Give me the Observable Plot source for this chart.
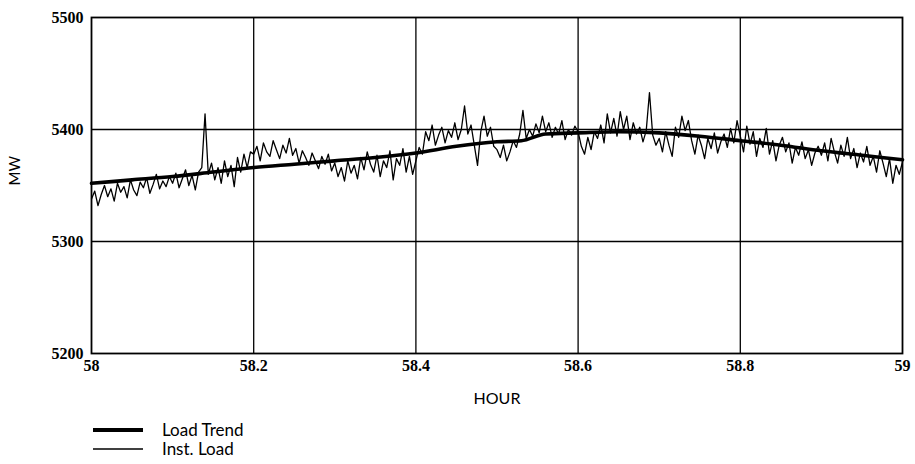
<!DOCTYPE html>
<html>
<head>
<meta charset="utf-8">
<script src="https://cdn.jsdelivr.net/npm/d3@7"></script>
<script src="https://cdn.jsdelivr.net/npm/@observablehq/plot@0.6"></script>
<style>
  body { margin: 0; background: #fff; }
  #legend { margin-left: 93px; margin-top: 5px; font-family: Lato, "Noto Sans", sans-serif; font-size: 17px; color: #000; }
  .row { display: flex; align-items: center; height: 19px; line-height: 19px; }
  .row svg { margin-right: 19px; }
</style>
</head>
<body>
<div id="chart"></div>
<div id="legend"></div>
<script>
const hourTicks = [58, 58.2, 58.4, 58.6, 58.8, 59];
const mwTicks = [5200, 5300, 5400, 5500];
const gridHours = [58.2, 58.4, 58.6, 58.8];
const gridMW = [5300, 5400];

const instStartHour = 58;
const instStepHour = 0.004;
const instLoad = [
  5338, 5345, 5332, 5342, 5350, 5340, 5347, 5336, 5352, 5344, 5349, 5339, 5355, 5346, 5341, 5353, 5348, 5357, 5343, 5351, 5360, 5347, 5354, 5349, 5358,
  5352, 5361, 5348, 5356, 5364, 5350, 5359, 5346, 5362, 5366, 5414, 5360, 5370, 5355, 5366, 5352, 5372, 5358, 5368, 5349, 5375, 5362, 5378, 5366, 5380,
  5378, 5385, 5372, 5388, 5380, 5376, 5390, 5382, 5374, 5386, 5379, 5392, 5377, 5383, 5370, 5381, 5375, 5368, 5379, 5372, 5365, 5376, 5369, 5378, 5363,
  5370, 5358, 5366, 5354, 5372, 5361, 5368, 5356, 5375, 5364, 5380, 5369, 5362, 5377, 5358, 5372, 5366, 5381, 5355, 5374, 5368, 5383, 5362, 5376, 5360,
  5372, 5384, 5378, 5398, 5390, 5404, 5386, 5395, 5402, 5388, 5399, 5393, 5406, 5391, 5400, 5421, 5396, 5404, 5386, 5368, 5398, 5412, 5394, 5402, 5385,
  5382, 5375, 5386, 5372, 5380, 5390, 5384, 5396, 5417, 5392, 5400, 5394, 5405, 5397, 5412, 5398, 5406, 5393, 5402, 5396, 5408, 5391, 5400, 5395, 5403,
  5398, 5385, 5378, 5393, 5382, 5398, 5392, 5404, 5388, 5414, 5397, 5410, 5394, 5416, 5400, 5412, 5391, 5406, 5396, 5402, 5389, 5399, 5433, 5395, 5386,
  5392, 5380, 5398, 5386, 5376, 5402, 5393, 5412, 5399, 5408, 5390, 5378, 5395, 5386, 5374, 5392, 5383, 5397, 5379, 5389, 5396, 5384, 5401, 5388, 5408,
  5394, 5380, 5403, 5387, 5398, 5376, 5392, 5384, 5401, 5378, 5390, 5372, 5386, 5393, 5380, 5388, 5370, 5384, 5377, 5389, 5374, 5382, 5368, 5379, 5385,
  5377, 5388, 5372, 5392, 5380, 5370, 5386, 5376, 5393, 5374, 5383, 5366, 5379, 5371, 5385, 5368, 5376, 5362, 5381, 5370, 5358, 5374, 5352, 5368, 5360,
  5371
];

const trendHour = [58.00, 58.05, 58.10, 58.15, 58.20, 58.25, 58.30, 58.35, 58.40, 58.45, 58.50, 58.53, 58.56, 58.60, 58.65, 58.70, 58.75, 58.80, 58.85, 58.90, 58.95, 59.00];
const trendMW   = [5352, 5355, 5358, 5362, 5366, 5369, 5372, 5375, 5379, 5385, 5389, 5390, 5396, 5397, 5398, 5397, 5394, 5390, 5386, 5381, 5377, 5373];

const instData = instLoad.map((mw, i) => ({hour: instStartHour + i * instStepHour, mw}));
const trendData = trendHour.map((hour, i) => ({hour, mw: trendMW[i]}));

const tickFont = "'Liberation Serif', serif";
const chart = Plot.plot({
  width: 915,
  height: 415,
  marginTop: 17,
  marginBottom: 62,
  marginLeft: 91,
  marginRight: 13,
  style: {fontFamily: tickFont, color: "#000", background: "#fff"},
  x: {domain: [58, 59]},
  y: {domain: [5200, 5500]},
  marks: [
    Plot.ruleX(gridHours, {stroke: "#000", strokeWidth: 1.3}),
    Plot.ruleY(gridMW, {stroke: "#000", strokeWidth: 1.3}),
    Plot.line(instData, {x: "hour", y: "mw", stroke: "#000", strokeWidth: 1.3}),
    Plot.line(trendData, {x: "hour", y: "mw", stroke: "#000", strokeWidth: 3.6, curve: "monotone-x"}),
    Plot.frame({stroke: "#000", strokeWidth: 1.8}),
    Plot.axisX(hourTicks, {tickFormat: d => String(d), tickSize: 0, tickPadding: 6, fontSize: 16, fontFamily: tickFont, fontWeight: "bold", label: null}),
    Plot.axisY(mwTicks, {tickFormat: d => String(d), tickSize: 0, tickPadding: 8, fontSize: 16, fontFamily: tickFont, fontWeight: "bold", label: null}),
    Plot.text(["HOUR"], {frameAnchor: "bottom", dy: 50, fontFamily: "Lato, 'Noto Sans', sans-serif", fontSize: 16}),
    Plot.text(["MW"], {frameAnchor: "left", dx: -76, rotate: -90, fontFamily: "Lato, 'Noto Sans', sans-serif", fontSize: 15})
  ]
});
document.getElementById("chart").appendChild(chart);

const legendItems = [
  {label: "Load Trend", width: 4},
  {label: "Inst. Load", width: 1.5}
];
const legend = document.getElementById("legend");
for (const item of legendItems) {
  const row = document.createElement("div");
  row.className = "row";
  row.innerHTML = `<svg width="50" height="8"><line x1="0" x2="50" y1="4" y2="4" stroke="#000" stroke-width="${item.width}"/></svg><span>${item.label}</span>`;
  legend.appendChild(row);
}
</script>
</body>
</html>
